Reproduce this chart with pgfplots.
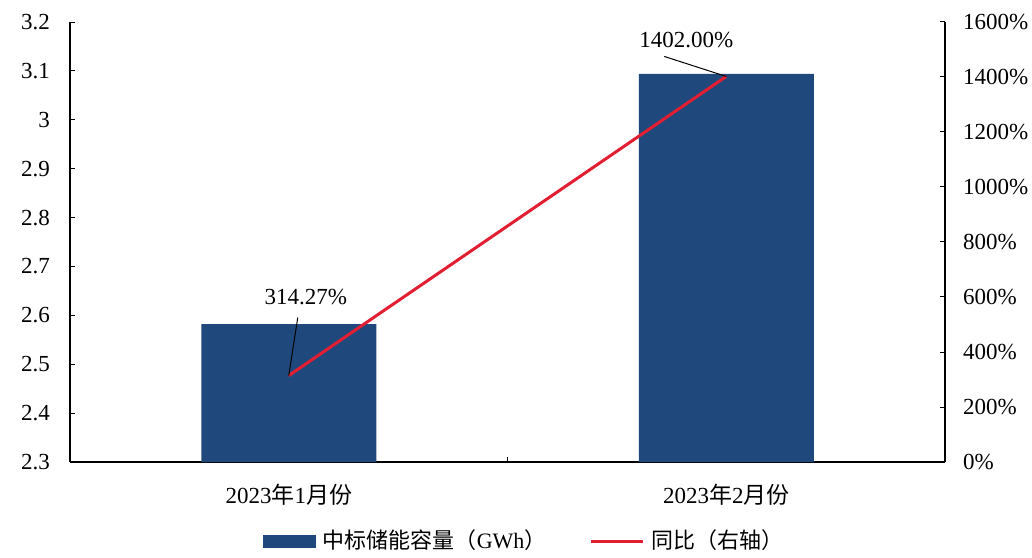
\documentclass[border=0pt]{standalone}
\usepackage{pgfplots}
\pgfplotsset{compat=1.18}
\usepackage{fontspec}
\setmainfont{Liberation Serif}
\newfontfamily\cjk{Noto Sans CJK SC}
\usetikzlibrary{calc}
\definecolor{barblue}{RGB}{31,73,125}
\definecolor{linered}{RGB}{226,30,50}
\begin{document}
\fontsize{11.5}{13}\selectfont
\begin{tikzpicture}
\path[use as bounding box] (-35pt,-47.5pt) rectangle (481pt,231pt);
\begin{axis}[
  name=ax1, at={(0,0)}, anchor=south west,
  width=437.5pt, height=220pt, scale only axis,
  xmin=-0.5, xmax=1.5,
  ymin=2.3, ymax=3.2,
  axis x line*=bottom, axis y line*=left,
  axis line style={black, line width=0.6pt},
  tick align=inside,
  major tick length=2.5pt,
  tick style={black, line width=0.5pt},
  xtick={-0.5,0.5,1.5}, xticklabels={},
  extra x ticks={0,1},
  extra x tick labels={2023{\cjk 年}1{\cjk 月份}, 2023{\cjk 年}2{\cjk 月份}},
  extra x tick style={major tick length=0pt, xticklabel style={yshift=-7pt}},
  ytick={2.3,2.4,...,3.21},
  yticklabel style={/pgf/number format/fixed, /pgf/number format/precision=1, xshift=-6pt},
  /pgf/number format/assume math mode=true,
  tick label style={font=\fontsize{11.5}{13}\selectfont},
  clip=true,
]
\addplot[ybar, bar width=0.4, fill=barblue, draw=none, bar shift=0pt] coordinates {(0,2.582) (1,3.094)};
\end{axis}
\begin{axis}[
  name=ax2, at={(0,0)}, anchor=south west,
  width=437.5pt, height=220pt, scale only axis,
  xmin=-0.5, xmax=1.5,
  ymin=0, ymax=1600,
  axis x line=none, axis y line*=right,
  axis line style={black, line width=0.6pt},
  tick align=inside,
  major tick length=2.5pt,
  tick style={black, line width=0.5pt},
  ytick={0,200,...,1600},
  yticklabel={\pgfmathprintnumber[1000 sep={}]{\tick}\%},
  yticklabel style={xshift=5pt},
  /pgf/number format/assume math mode=true,
  tick label style={font=\fontsize{11.5}{13}\selectfont},
  legend columns=2,
  legend style={draw=none, fill=none, at={(0.522,-0.18)}, anchor=center,
    font=\fontsize{11}{12}\selectfont\cjk,
    nodes={inner xsep=3.5pt, inner ysep=1pt},
    /tikz/every even column/.append style={column sep=18pt}},
  legend cell align=left,
]
\addlegendimage{legend image code/.code={\fill[barblue] (0pt,-3pt) rectangle (26pt,3pt);}}
\addlegendentry{中标储能容量（{\rmfamily GWh}）}
\addplot[linered, line width=1.5pt, legend image code/.code={\draw[linered, line width=1.5pt] (0pt,0pt) -- (26pt,0pt);}] coordinates {(0,314.27) (1,1402.00)};
\addlegendentry{同比（右轴）}
\draw[black, line width=0.5pt] (axis cs:0,314.27) -- ++(4.5pt,29pt);
\node[font=\fontsize{11.5}{13}\selectfont] at ($(axis cs:0,314.27)+(8.5pt,39.5pt)$) {314.27\%};
\draw[black, line width=0.5pt] (axis cs:1,1402) -- ++(-31pt,10pt);
\node[font=\fontsize{11.5}{13}\selectfont] at ($(axis cs:1,1402)+(-20pt,18pt)$) {1402.00\%};
\end{axis}
\end{tikzpicture}
\end{document}
